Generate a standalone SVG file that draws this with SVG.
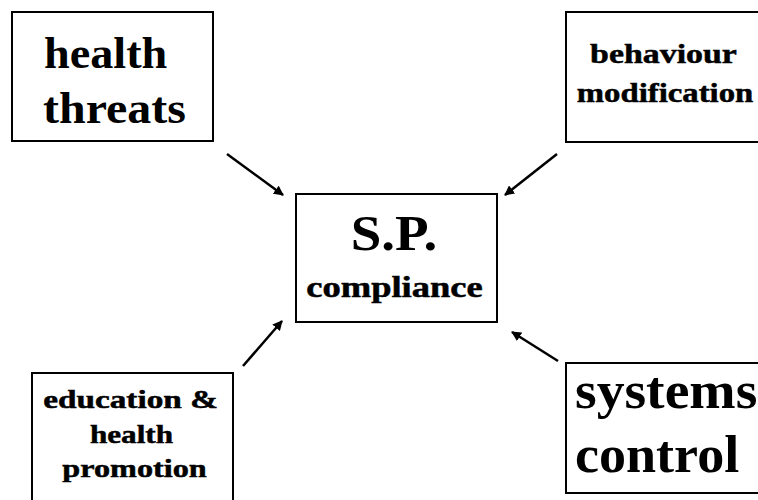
<svg xmlns="http://www.w3.org/2000/svg" width="758" height="500" viewBox="0 0 758 500">
<style>
.box{fill:#fff;stroke:#000;stroke-width:2}
.t{font-family:"Liberation Serif","Times New Roman",serif;font-weight:bold;fill:#000}
.s{stroke:#000;stroke-width:0.5}
.m{text-anchor:middle}
.c{stroke:#000;stroke-width:2.5;fill:none;marker-end:url(#ah)}
</style>
<defs>
<marker id="ah" viewBox="0 0 10 10" refX="9" refY="5" markerWidth="4" markerHeight="4" orient="auto" markerUnits="strokeWidth">
<path d="M0,0 L10,5 L0,10 z" fill="#000"/>
</marker>
</defs>
<rect width="758" height="500" fill="#fff"/>
<g id="connectors">
<line class="c" x1="227" y1="154" x2="283" y2="195"/>
<line class="c" x1="557" y1="154" x2="505" y2="195"/>
<line class="c" x1="243" y1="366" x2="282" y2="321"/>
<line class="c" x1="558" y1="361" x2="512" y2="332"/>
</g>
<g id="health-threats">
<rect class="box" x="12" y="12" width="201" height="129"/>
<text class="t" transform="translate(44,68) scale(1.05,1)" font-size="44">health</text>
<text class="t" transform="translate(43,123) scale(1.09,1)" font-size="44">threats</text>
</g>
<g id="behaviour-modification">
<rect class="box" x="566" y="12" width="210" height="130"/>
<text class="t s m" transform="translate(663.5,63) scale(1.21,1)" font-size="28">behaviour</text>
<text class="t s m" transform="translate(665,102) scale(1.17,1)" font-size="28">modification</text>
</g>
<g id="sp-compliance">
<rect class="box" x="296" y="194" width="201" height="128"/>
<text class="t m" transform="translate(394,250) scale(1.1,1)" font-size="50">S.P.</text>
<text class="t s m" transform="translate(394.5,297) scale(1.26,1)" font-size="29">compliance</text>
</g>
<g id="education-health-promotion">
<rect class="box" x="32" y="373" width="201" height="140"/>
<text class="t s m" transform="translate(130.5,408) scale(1.28,1)" font-size="26">education &amp;</text>
<text class="t s m" transform="translate(131.5,443) scale(1.2,1)" font-size="26">health</text>
<text class="t s m" transform="translate(134.5,477) scale(1.24,1)" font-size="26">promotion</text>
</g>
<g id="systems-control">
<rect class="box" x="566" y="363" width="210" height="130"/>
<text class="t" transform="translate(575,408) scale(1.07,1)" font-size="52">systems</text>
<text class="t" transform="translate(575,472) scale(1.04,1)" font-size="52">control</text>
</g>
</svg>
